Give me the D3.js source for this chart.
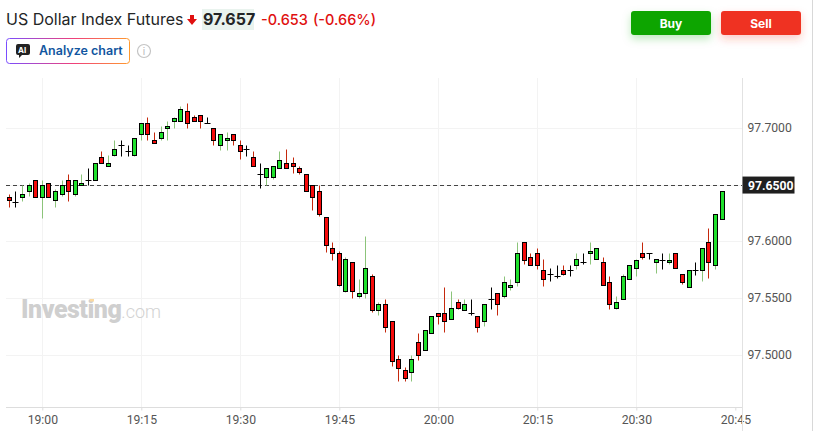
<!DOCTYPE html>
<html>
<head>
<meta charset="utf-8">
<script src="https://cdnjs.cloudflare.com/ajax/libs/d3/7.8.5/d3.min.js"></script>
<style>
  html, body { margin: 0; padding: 0; background: #fff; overflow: hidden; }
  text { font-family: Inter, "Noto Sans", sans-serif; }
</style>
</head>
<body>
<script>
// one minute candles, first one is 18:55
var startMinute = 18 * 60 + 55;

var opens = [97.6395,97.6348,97.6395,97.6447,97.6544,97.6395,97.6518,97.6368,97.6421,97.6544,97.6421,97.6500,97.6544,97.6544,97.6746,97.6667,97.6764,97.6852,97.6799,97.6764,
  97.6948,97.7045,97.6896,97.6913,97.7001,97.7063,97.7063,97.7150,97.7098,97.7115,97.7045,97.7001,97.6852,97.6896,97.6948,97.6852,97.6816,97.6746,97.6594,97.6570,
  97.6570,97.6649,97.6693,97.6693,97.6649,97.6597,97.6500,97.6447,97.6219,97.5946,97.5902,97.5565,97.5823,97.5524,97.5548,97.5700,97.5401,97.5454,97.5305,97.4971,
  97.4874,97.4856,97.5120,97.5050,97.5199,97.5375,97.5375,97.5322,97.5472,97.5401,97.5369,97.5349,97.5305,97.5498,97.5551,97.5524,97.5603,97.5647,97.5999,97.5867,
  97.5902,97.5753,97.5718,97.5700,97.5753,97.5753,97.5797,97.5823,97.5902,97.5850,97.5823,97.5647,97.5419,97.5498,97.5674,97.5770,97.5902,97.5902,97.5823,97.5841,
  97.5823,97.5902,97.5718,97.5603,97.5753,97.5753,97.5999,97.5797,97.6201];
var closes = [97.6368,97.6348,97.6421,97.6500,97.6395,97.6497,97.6395,97.6447,97.6500,97.6447,97.6544,97.6518,97.6544,97.6693,97.6693,97.6693,97.6816,97.6852,97.6799,97.6913,
  97.7045,97.6948,97.6869,97.6966,97.7019,97.7089,97.7168,97.7045,97.7063,97.7063,97.7045,97.6896,97.6948,97.6913,97.6896,97.6799,97.6816,97.6667,97.6594,97.6649,
  97.6667,97.6720,97.6649,97.6667,97.6614,97.6447,97.6395,97.6245,97.5973,97.5902,97.5618,97.5850,97.5565,97.5551,97.5770,97.5401,97.5454,97.5252,97.4953,97.4891,
  97.4804,97.4971,97.5006,97.5225,97.5349,97.5349,97.5305,97.5419,97.5419,97.5454,97.5369,97.5252,97.5454,97.5498,97.5454,97.5647,97.5621,97.5902,97.5841,97.5797,
  97.5797,97.5674,97.5718,97.5700,97.5718,97.5753,97.5850,97.5823,97.5920,97.5946,97.5621,97.5454,97.5472,97.5700,97.5797,97.5841,97.5867,97.5902,97.5850,97.5841,
  97.5841,97.5770,97.5647,97.5753,97.5753,97.5946,97.5823,97.6245,97.6447];
var highs = [97.6421,97.6447,97.6500,97.6518,97.6544,97.6547,97.6518,97.6465,97.6547,97.6600,97.6544,97.6600,97.6649,97.6693,97.6802,97.6767,97.6898,97.6898,97.6852,97.6913,
  97.7045,97.7098,97.6966,97.7019,97.7063,97.7098,97.7197,97.7221,97.7115,97.7115,97.7098,97.7001,97.6948,97.6966,97.6948,97.6898,97.6852,97.6802,97.6693,97.6649,
  97.6667,97.6802,97.6819,97.6746,97.6667,97.6597,97.6500,97.6500,97.6219,97.5999,97.5920,97.5867,97.5823,97.5674,97.6055,97.5718,97.5472,97.5498,97.5305,97.5006,
  97.4900,97.5006,97.5199,97.5225,97.5349,97.5375,97.5603,97.5568,97.5498,97.5498,97.5498,97.5349,97.5454,97.5603,97.5551,97.5703,97.5674,97.5999,97.5999,97.5902,
  97.5946,97.5850,97.5770,97.5797,97.5797,97.5797,97.5902,97.5902,97.5999,97.5946,97.5867,97.5700,97.5524,97.5718,97.5797,97.5850,97.6002,97.5902,97.5850,97.5902,
  97.5902,97.5902,97.5718,97.5753,97.5823,97.5946,97.6122,97.6245,97.6447];
var lows = [97.6304,97.6304,97.6356,97.6400,97.6395,97.6207,97.6395,97.6304,97.6400,97.6356,97.6400,97.6500,97.6500,97.6544,97.6693,97.6667,97.6752,97.6752,97.6752,97.6752,
  97.6898,97.6898,97.6869,97.6898,97.6898,97.7001,97.7063,97.7004,97.7063,97.7007,97.7045,97.6855,97.6805,97.6805,97.6855,97.6729,97.6752,97.6667,97.6471,97.6500,
  97.6553,97.6649,97.6649,97.6605,97.6600,97.6447,97.6277,97.6225,97.5908,97.5844,97.5609,97.5557,97.5504,97.5504,97.5504,97.5381,97.5354,97.5205,97.4906,97.4774,
  97.4774,97.4774,97.4959,97.5050,97.5199,97.5275,97.5205,97.5322,97.5410,97.5401,97.5357,97.5205,97.5258,97.5404,97.5354,97.5504,97.5574,97.5609,97.5803,97.5797,
  97.5756,97.5609,97.5653,97.5683,97.5709,97.5703,97.5762,97.5806,97.5803,97.5850,97.5621,97.5407,97.5410,97.5498,97.5674,97.5703,97.5850,97.5850,97.5726,97.5762,
  97.5803,97.5770,97.5630,97.5603,97.5709,97.5656,97.5683,97.5762,97.6201];

var priceTicks = [97.5, 97.55, 97.6, 97.65, 97.7];
var timeTicks = [19 * 60, 19 * 60 + 15, 19 * 60 + 30, 19 * 60 + 45, 20 * 60, 20 * 60 + 15, 20 * 60 + 30, 20 * 60 + 45];
var lastPrice = 97.65;

var width = 818, height = 431;
var plotLeft = 6, plotRight = 742, plotTop = 78, plotBottom = 407;

// 6.6px a minute, 19:00 sits at x=42.3
var x = d3.scaleLinear().domain([19 * 60, 20 * 60 + 45]).range([42.3, 735.3]);
var y = d3.scaleLinear().domain([97.5, 97.7]).range([355.3, 128.3]);

// keep the candles on whole pixels so the borders stay sharp
function px(v) { return Math.floor(v) + 0.5; }
function py(v) { return Math.round(y(v)) + 0.5; }

var svg = d3.select("body").append("svg")
  .attr("width", width)
  .attr("height", height);

// grid
svg.append("g").selectAll("line").data(timeTicks.slice(0, 7)).join("line")
  .attr("x1", function(d) { return px(x(d)); })
  .attr("x2", function(d) { return px(x(d)); })
  .attr("y1", plotTop).attr("y2", plotBottom)
  .attr("stroke", "#f3f3f3");
svg.append("g").selectAll("line").data(priceTicks).join("line")
  .attr("x1", plotLeft).attr("x2", plotRight)
  .attr("y1", function(d) { return Math.floor(y(d)) + 0.5; })
  .attr("y2", function(d) { return Math.floor(y(d)) + 0.5; })
  .attr("stroke", "#f3f3f3");

// watermark
var mark = svg.append("text").attr("x", 21).attr("y", 318);
mark.append("tspan").text("Investing")
  .style("font-family", "Roboto").style("font-size", "25px").style("font-weight", 900).attr("fill", "#cfcfcf").attr("letter-spacing", "-0.5");
mark.append("tspan").text(".com")
  .style("font-family", "Roboto").style("font-size", "18px").style("font-weight", 300).attr("fill", "#d2d2d2");
svg.append("rect").attr("x", 90).attr("y", 299).attr("width", 4).attr("height", 2.5).attr("fill", "#fbd9a0");

// axes
var yAxis = d3.axisRight(y).tickValues(priceTicks.filter(function(d) { return d != lastPrice; }))
  .tickFormat(d3.format(".4f")).tickSize(0).tickPadding(6);
var yG = svg.append("g").attr("transform", "translate(" + (plotRight - 0.5) + ",-1)").call(yAxis);
yG.select(".domain").remove();
yG.selectAll("text").style("font-family", "Roboto").style("font-size", "12.2px").attr("fill", "#555");

var xAxis = d3.axisBottom(x).tickValues(timeTicks)
  .tickFormat(function(d) { return Math.floor(d / 60) + ":" + d3.format("02")(d % 60); })
  .tickSize(3).tickPadding(5);
var xG = svg.append("g").attr("transform", "translate(0," + (plotBottom + 0.5) + ")").call(xAxis);
xG.select(".domain").remove();
xG.selectAll("line").attr("stroke", "#ddd");
xG.selectAll("text").style("font-family", "Roboto").style("font-size", "12.2px").attr("fill", "#555");

svg.append("line").attr("x1", plotLeft).attr("x2", plotRight)
  .attr("y1", plotBottom + 0.5).attr("y2", plotBottom + 0.5).attr("stroke", "#ddd");
svg.append("line").attr("x1", plotRight + 0.5).attr("x2", plotRight + 0.5)
  .attr("y1", plotTop).attr("y2", height).attr("stroke", "#e2e2e2");
svg.append("line").attr("x1", 812.5).attr("x2", 812.5)
  .attr("y1", 0).attr("y2", height).attr("stroke", "#d8d8d8");

// last price line
svg.append("line").attr("x1", plotLeft).attr("x2", plotRight)
  .attr("y1", Math.floor(y(lastPrice)) + 0.5).attr("y2", Math.floor(y(lastPrice)) + 0.5)
  .attr("stroke", "#444").attr("stroke-dasharray", "4,3");
svg.append("rect").attr("x", plotRight + 0.5).attr("y", y(lastPrice) - 8.5)
  .attr("width", 52).attr("height", 17).attr("fill", "#1f1f1f");
svg.append("text").attr("x", plotRight + 6).attr("y", y(lastPrice) + 4.5)
  .text(d3.format(".4f")(lastPrice))
  .style("font-family", "Roboto").style("font-size", "12.2px").style("font-weight", 700).attr("fill", "#fff");

// candles
var candles = opens.map(function(d, i) {
  return {minute: startMinute + i, open: d, close: closes[i], high: highs[i], low: lows[i]};
});
function wickColor(d) {
  if (d.close == d.open) return "#000";
  return d.close > d.open ? "#8cc47a" : "#c5280c";
}
var candle = svg.append("g").selectAll("g").data(candles).join("g");
candle.append("line")
  .attr("x1", function(d) { return px(x(d.minute)); })
  .attr("x2", function(d) { return px(x(d.minute)); })
  .attr("y1", function(d) { return py(d.high); })
  .attr("y2", function(d) { return py(d.low); })
  .attr("stroke", wickColor)
  .attr("stroke-width", 1);
candle.filter(function(d) { return d.close == d.open; }).append("line")
  .attr("x1", function(d) { return px(x(d.minute)) - 3; })
  .attr("x2", function(d) { return px(x(d.minute)) + 3; })
  .attr("y1", function(d) { return py(d.open); })
  .attr("y2", function(d) { return py(d.open); })
  .attr("stroke", "#000");
candle.filter(function(d) { return d.close != d.open; }).append("rect")
  .attr("x", function(d) { return px(x(d.minute)) - 2; })
  .attr("width", 4)
  .attr("y", function(d) { return py(Math.max(d.open, d.close)); })
  .attr("height", function(d) { return py(Math.min(d.open, d.close)) - py(Math.max(d.open, d.close)); })
  .attr("fill", function(d) { return d.close > d.open ? "#1fe02c" : "#f50b0b"; })
  .attr("stroke", "#000")
  .attr("stroke-width", 1);

// header
svg.append("text").attr("x", 6).attr("y", 25).text("US Dollar Index Futures")
  .style("font-size", "16px").attr("fill", "#232526");
svg.append("path").attr("d", "M190,15h4v4h3l-5,6l-5,-6h3z").attr("fill", "#e01010");
svg.append("rect").attr("x", 202).attr("y", 9).attr("width", 52).attr("height", 21).attr("fill", "#e9f3ee");
svg.append("text").attr("x", 203).attr("y", 25).text("97.657")
  .style("font-size", "16px").style("font-weight", 700).attr("fill", "#232526");
svg.append("text").attr("x", 261).attr("y", 25).text("-0.653")
  .style("font-size", "14.5px").style("font-weight", 500).attr("fill", "#e01010");
svg.append("text").attr("x", 313).attr("y", 25).text("(-0.66%)")
  .style("font-size", "14.5px").style("font-weight", 500).attr("fill", "#e01010");

// analyze chart button
var grad = svg.append("defs").append("linearGradient").attr("id", "aiBorder");
grad.append("stop").attr("offset", "0%").attr("stop-color", "#7a4dff");
grad.append("stop").attr("offset", "55%").attr("stop-color", "#f0407a");
grad.append("stop").attr("offset", "100%").attr("stop-color", "#ff9a2e");
svg.append("rect").attr("x", 6.5).attr("y", 38.5).attr("width", 123).attr("height", 25).attr("rx", 3)
  .attr("fill", "#fff").attr("stroke", "url(#aiBorder)");
svg.append("path").attr("d", "M18,44h10a2,2 0 0 1 2,2v7a2,2 0 0 1 -2,2h-6l-3,3v-3h-1a2,2 0 0 1 -2,-2v-7a2,2 0 0 1 2,-2z").attr("fill", "#222");
svg.append("text").attr("x", 18).attr("y", 53).text("AI")
  .style("font-size", "8px").style("font-weight", 700).attr("fill", "#fff");
svg.append("text").attr("x", 39).attr("y", 55).text("Analyze chart")
  .style("font-size", "12.5px").style("font-weight", 600).attr("fill", "#1256a0");
svg.append("circle").attr("cx", 144).attr("cy", 51).attr("r", 6.5).attr("fill", "none").attr("stroke", "#c4c4c4").attr("stroke-width", 1.2);
svg.append("text").attr("x", 144).attr("y", 55).attr("text-anchor", "middle").text("i")
  .style("font-size", "10px").attr("fill", "#b8b8b8");

// buy and sell
var buttons = [
  {label: "Buy", left: 631, color: "#0ea500", glow: "rgba(14,165,0,0.25)"},
  {label: "Sell", left: 721, color: "#ef3323", glow: "rgba(239,51,35,0.25)"}
];
buttons.forEach(function(b) {
  var f = svg.append("defs").append("filter").attr("id", "glow" + b.label)
    .attr("x", "-20%").attr("y", "-50%").attr("width", "140%").attr("height", "220%");
  f.append("feDropShadow").attr("dx", 0).attr("dy", 4).attr("stdDeviation", 4).attr("flood-color", b.glow);
  svg.append("rect").attr("x", b.left).attr("y", 11).attr("width", 80).attr("height", 24).attr("rx", 3)
    .attr("fill", b.color).attr("filter", "url(#glow" + b.label + ")");
  svg.append("text").attr("x", b.left + 40).attr("y", 27.5).attr("text-anchor", "middle").text(b.label)
    .style("font-size", "12px").style("font-weight", 700).attr("fill", "#fff");
});
</script>
</body>
</html>
